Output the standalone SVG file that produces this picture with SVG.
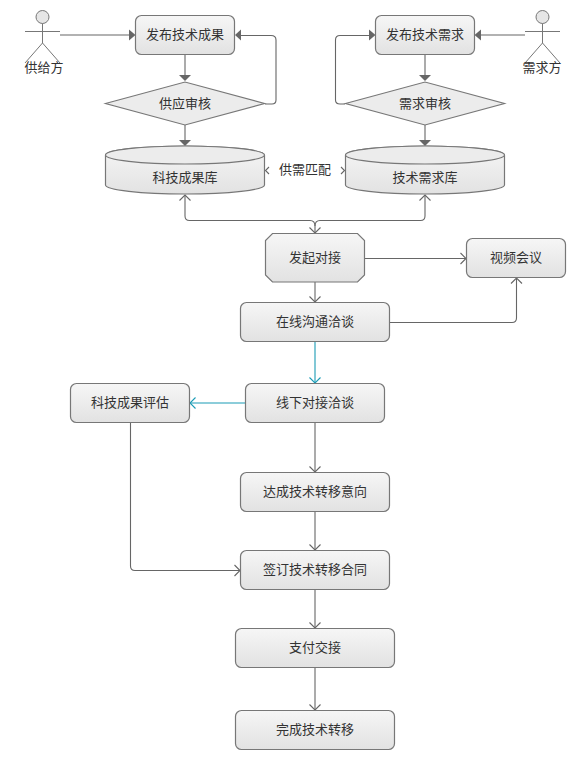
<svg xmlns="http://www.w3.org/2000/svg" width="575" height="759" viewBox="0 0 575 759">
<style>
text{font-family:"Noto Sans CJK SC","Liberation Sans",sans-serif;font-size:13px;fill:#333;text-anchor:middle;dominant-baseline:central}
.n{fill:url(#g);stroke:#777;stroke-width:1.2}
.d{fill:#ececec;stroke:#777;stroke-width:1.2}
.c{fill:none;stroke:#666;stroke-width:1.1}
.t{fill:none;stroke:#1a9bb5;stroke-width:1.1}
.a{fill:none;stroke:#777;stroke-width:1}
.open{fill:none;stroke:#666;stroke-width:1.1}
.opent{fill:none;stroke:#1a9bb5;stroke-width:1.1}
.fill{fill:#666;stroke:none}
</style>
<defs>
<linearGradient id="g" x1="0" y1="0" x2="0" y2="1"><stop offset="0" stop-color="#f6f6f6"/><stop offset="1" stop-color="#e2e2e2"/></linearGradient>
</defs>
<rect width="575" height="759" fill="#fff"/>
<g id="connectors">
<path class="c" d="M60 35H129"/><path class="fill" d="M135.500 35L129 29.500V40.500Z"/>
<path class="c" d="M185 54V76"/><path class="fill" d="M185 81L179 75H191Z"/>
<path class="c" d="M265 104H272Q276 104 276 100V40Q276 35.500 271 35.500H241"/><path class="fill" d="M235 35L241 29.500V40.500Z"/>
<path class="c" d="M185 125V140"/><path class="fill" d="M185 146L179 140H191Z"/>
<path class="c" d="M525 35H481"/><path class="fill" d="M474.500 35L481 29.500V40.500Z"/>
<path class="c" d="M425 54V76"/><path class="fill" d="M425 81L419 75H431Z"/>
<path class="c" d="M345 104H340Q335.500 104 335.500 100V40Q335.500 35.500 340 35.500H369"/><path class="fill" d="M375.500 35L369 29.500V40.500Z"/>
<path class="c" d="M425 125V140"/><path class="fill" d="M425 146L419 140H431Z"/>
<path class="open" d="M269 167L265.500 170.500L269 174"/>
<path class="open" d="M341 167L344.500 170.500L341 174"/>
<path class="c" d="M185 195V216Q185 220.500 189.500 220.500H310Q315 220.500 315 226V233"/>
<path class="c" d="M425 195V216Q425 220.500 420.500 220.500H320Q315 220.500 315 226"/>
<path class="open" d="M179.500 200.500L185 195L190.500 200.500"/>
<path class="open" d="M419.500 200.500L425 195L430.500 200.500"/>
<path class="open" d="M309.500 227.500L315 233L320.500 227.500"/>
<path class="c" d="M364.500 258.500H466"/><path class="open" d="M460.500 253L466 258.500L460.500 264"/>
<path class="c" d="M315 282V302"/><path class="open" d="M309.500 296.500L315 302L320.500 296.500"/>
<path class="c" d="M389.500 322.500H512Q516.500 322.500 516.500 318V278"/><path class="open" d="M511 283.500L516.500 278L522 283.500"/>
<path class="t" d="M315 341V383"/><path class="opent" d="M309.500 377.500L315 383L320.500 377.500"/>
<path class="t" d="M245.500 403H190"/><path class="opent" d="M195.500 397.500L190 403L195.500 408.500"/>
<path class="c" d="M315 422V472"/><path class="open" d="M309.500 466.500L315 472L320.500 466.500"/>
<path class="c" d="M315 511V550"/><path class="open" d="M309.500 544.500L315 550L320.500 544.500"/>
<path class="c" d="M130.500 422V566Q130.500 570.500 135 570.500H240"/><path class="open" d="M234.500 565L240 570.500L234.500 576"/>
<path class="c" d="M315 589V628"/><path class="open" d="M309.500 622.500L315 628L320.500 622.500"/>
<path class="c" d="M315 667V710"/><path class="open" d="M309.500 704.500L315 710L320.500 704.500"/>
</g>
<g id="supplier"><circle cx="42.500" cy="17" r="6.500" fill="#e6e6e6" stroke="#777"/><path class="a" d="M42.500 23.500V43M25 31.500H60M42.500 43L25 63M42.500 43L60 63"/><text x="44" y="66">供给方</text></g>
<g id="demander"><circle cx="542.500" cy="17" r="6.500" fill="#e6e6e6" stroke="#777"/><path class="a" d="M542.500 23.500V43M525 31.500H560M542.500 43L525 63M542.500 43L560 63"/><text x="542" y="66">需求方</text></g>
<g id="publish-result"><rect class="n" x="135.500" y="15.500" width="99" height="39" rx="6"/><text x="185" y="33">发布技术成果</text></g>
<g id="publish-need"><rect class="n" x="375.500" y="15.500" width="99" height="39" rx="6"/><text x="425" y="33">发布技术需求</text></g>
<g id="supply-review"><path class="d" d="M105.500 103.500L185 82L264.500 103.500L185 125Z"/><text x="185" y="102">供应审核</text></g>
<g id="need-review"><path class="d" d="M345.500 103.500L425 82L504.500 103.500L425 125Z"/><text x="425" y="102">需求审核</text></g>
<g id="result-db"><path class="n" d="M105.500 155V185A79.500 9 0 0 0 264.500 185V155A79.500 9 0 0 0 105.500 155Z"/><path fill="#ececec" stroke="#777" stroke-width="1.200" d="M105.500 155A79.500 9 0 0 1 264.500 155A79.500 9 0 0 1 105.500 155Z"/><text x="185" y="176">科技成果库</text></g>
<g id="need-db"><path class="n" d="M345.500 155V185A79.500 9 0 0 0 504.500 185V155A79.500 9 0 0 0 345.500 155Z"/><path fill="#ececec" stroke="#777" stroke-width="1.200" d="M345.500 155A79.500 9 0 0 1 504.500 155A79.500 9 0 0 1 345.500 155Z"/><text x="425" y="176">技术需求库</text></g>
<g id="match-label"><text x="305" y="168">供需匹配</text></g>
<g id="start"><path class="n" d="M272.500 233.500H357.500L364.500 240.500V275L357.500 282H272.500L265.500 275V240.500Z"/><text x="315" y="256">发起对接</text></g>
<g id="video"><rect class="n" x="466.500" y="238.500" width="99" height="39" rx="6"/><text x="516" y="256">视频会议</text></g>
<g id="online"><rect class="n" x="240.500" y="302.500" width="149" height="39" rx="6"/><text x="315" y="320">在线沟通洽谈</text></g>
<g id="offline"><rect class="n" x="245.500" y="383.500" width="139" height="39" rx="6"/><text x="315" y="401">线下对接洽谈</text></g>
<g id="evaluate"><rect class="n" x="70.500" y="383.500" width="119" height="39" rx="6"/><text x="130" y="401">科技成果评估</text></g>
<g id="intent"><rect class="n" x="240.500" y="472.500" width="149" height="39" rx="6"/><text x="315" y="490">达成技术转移意向</text></g>
<g id="contract"><rect class="n" x="240.500" y="550.500" width="149" height="39" rx="6"/><text x="315" y="568">签订技术转移合同</text></g>
<g id="pay"><rect class="n" x="235.500" y="628.500" width="159" height="39" rx="6"/><text x="315" y="646">支付交接</text></g>
<g id="finish"><rect class="n" x="235.500" y="710.500" width="159" height="39" rx="6"/><text x="315" y="728">完成技术转移</text></g>
</svg>
